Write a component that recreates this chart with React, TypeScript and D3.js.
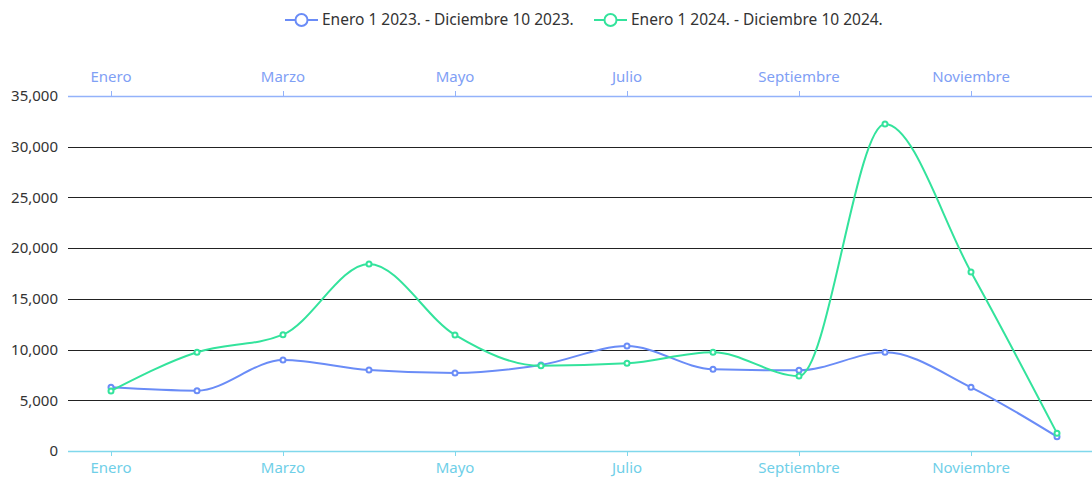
import React, { useEffect, useRef } from 'react';
import * as d3 from 'd3';

const months = [
  'Enero', 'Febrero', 'Marzo', 'Abril', 'Mayo', 'Junio',
  'Julio', 'Agosto', 'Septiembre', 'Octubre', 'Noviembre', 'Diciembre',
];
const values2023 = [6280, 5950, 8970, 7990, 7700, 8480, 10350, 8050, 7950, 9730, 6280, 1410];
const values2024 = [5920, 9730, 11470, 18440, 11440, 8400, 8640, 9730, 7390, 32240, 17650, 1750];
const yTicks = [0, 5000, 10000, 15000, 20000, 25000, 30000, 35000];
const seriesNames = ['Enero 1 2023. - Diciembre 10 2023.', 'Enero 1 2024. - Diciembre 10 2024.'];
const seriesColors = ['#6a8cf7', '#33e39c'];

const W = 1092;
const H = 477;
const FONT = '"Noto Sans", "DejaVu Sans", sans-serif';

const App: React.FC = () => {
  const svgRef = useRef<SVGSVGElement>(null);

  useEffect(() => {
    if (!svgRef.current) return;
    const svg = d3.select(svgRef.current);
    svg.selectAll('*').remove();

    const margin = { top: 96, left: 68, bottom: 451 };

    const x = d3.scaleBand<string>().domain(months).range([margin.left, margin.left + 86 * 12]);
    const cx = (m: string) => (x(m) as number) + x.bandwidth() / 2;
    const y = d3.scaleLinear().domain([0, 35000]).range([margin.bottom, margin.top]);

    const right = margin.left + 86 * 12;

    // grid lines
    svg.append('g')
      .selectAll('line')
      .data(yTicks.filter(t => t > 0 && t < 35000))
      .enter()
      .append('line')
      .attr('x1', margin.left)
      .attr('x2', right)
      .attr('y1', d => Math.round(y(d)) + 0.5)
      .attr('y2', d => Math.round(y(d)) + 0.5)
      .style('stroke', '#222')
      .style('stroke-width', 1);

    // y labels
    svg.append('g')
      .selectAll('text')
      .data(yTicks)
      .enter()
      .append('text')
      .attr('x', 58)
      .attr('y', d => y(d))
      .attr('dy', '0.35em')
      .attr('text-anchor', 'end')
      .style('font-family', FONT)
      .style('font-size', '15px')
      .style('fill', '#333')
      .text(d => d3.format(',')(d));

    const labelled = months.filter((_, i) => i % 2 === 0);

    // top axis
    const topColor = '#93b2fa';
    const topLabel = '#7fa0f5';
    const top = svg.append('g');
    top.append('line')
      .attr('x1', margin.left).attr('x2', right)
      .attr('y1', margin.top + 0.5).attr('y2', margin.top + 0.5)
      .style('stroke', topColor).style('stroke-width', 1.5);
    top.selectAll('line.tick')
      .data(labelled)
      .enter()
      .append('line')
      .attr('class', 'tick')
      .attr('x1', d => Math.round(cx(d)) + 0.5)
      .attr('x2', d => Math.round(cx(d)) + 0.5)
      .attr('y1', margin.top - 5)
      .attr('y2', margin.top)
      .style('stroke', topColor);
    top.selectAll('text')
      .data(labelled)
      .enter()
      .append('text')
      .attr('x', d => cx(d))
      .attr('y', 77)
      .attr('dy', '0.35em')
      .attr('text-anchor', 'middle')
      .style('font-family', FONT)
      .style('font-size', '15px')
      .style('fill', topLabel)
      .text(d => d);

    // bottom axis
    const botColor = '#80d8ec';
    const botLabel = '#6fcfe8';
    const bot = svg.append('g');
    bot.append('line')
      .attr('x1', margin.left).attr('x2', right)
      .attr('y1', margin.bottom + 0.5).attr('y2', margin.bottom + 0.5)
      .style('stroke', botColor).style('stroke-width', 1.5);
    bot.selectAll('line.tick')
      .data(labelled)
      .enter()
      .append('line')
      .attr('class', 'tick')
      .attr('x1', d => Math.round(cx(d)) + 0.5)
      .attr('x2', d => Math.round(cx(d)) + 0.5)
      .attr('y1', margin.bottom)
      .attr('y2', margin.bottom + 5)
      .style('stroke', botColor);
    bot.selectAll('text')
      .data(labelled)
      .enter()
      .append('text')
      .attr('x', d => cx(d))
      .attr('y', 468)
      .attr('dy', '0.35em')
      .attr('text-anchor', 'middle')
      .style('font-family', FONT)
      .style('font-size', '15px')
      .style('fill', botLabel)
      .text(d => d);

    // series
    const line = d3.line<number>()
      .x((_, i) => cx(months[i]))
      .y(d => y(d))
      .curve(d3.curveMonotoneX);

    [values2023, values2024].forEach((vals, si) => {
      const g = svg.append('g');
      g.append('path')
        .attr('d', line(vals) as string)
        .style('fill', 'none')
        .style('stroke', seriesColors[si])
        .style('stroke-width', 2);
      g.selectAll('circle')
        .data(vals)
        .enter()
        .append('circle')
        .attr('cx', (_, i) => cx(months[i]))
        .attr('cy', d => y(d))
        .attr('r', 2.5)
        .style('fill', '#fff')
        .style('stroke', seriesColors[si])
        .style('stroke-width', 2);
    });

    // legend
    const legendX = [285, 594];
    const legend = svg.append('g');
    seriesNames.forEach((name, i) => {
      const lg = legend.append('g').attr('transform', `translate(${legendX[i]},20)`);
      lg.append('line')
        .attr('x1', 0).attr('x2', 33)
        .style('stroke', seriesColors[i]).style('stroke-width', 2);
      lg.append('circle')
        .attr('cx', 16.5).attr('r', 6)
        .style('fill', '#fff')
        .style('stroke', seriesColors[i]).style('stroke-width', 2);
      lg.append('text')
        .attr('x', 37)
        .attr('dy', '0.35em')
        .style('font-family', FONT)
        .style('font-size', '15.5px')
        .style('fill', '#333')
        .text(name);
    });
  }, []);

  return (
    <svg
      ref={svgRef}
      width={W}
      height={H}
      style={{ position: 'absolute', left: 0, top: 0, display: 'block', background: '#fff' }}
    />
  );
};

export default App;
